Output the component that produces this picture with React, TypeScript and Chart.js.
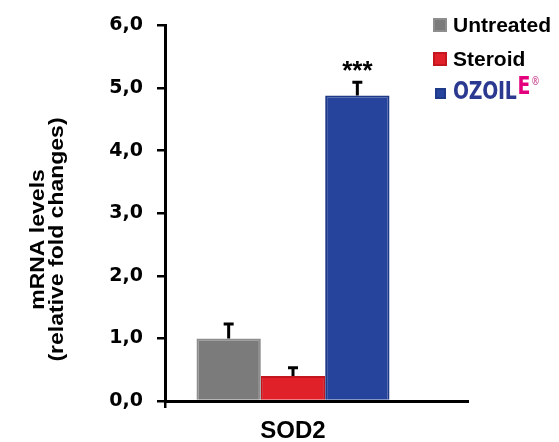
import React, { useEffect, useRef } from 'react';
import { Chart, registerables } from 'chart.js';

Chart.register(...registerables);

// ---- data ----
const categories = ['SOD2'];
const seriesNames = ['Untreated', 'Steroid', 'OZOIL'];
const untreatedValues = [1.0];
const steroidValues = [0.4];
const ozoilValues = [4.88];
const untreatedErrors = [0.23];
const steroidErrors = [0.13];
const ozoilErrors = [0.21];
const significanceMarks = ['', '', '***'];
const yTickValues = [0, 1, 2, 3, 4, 5, 6];
const yTitleLines = ['mRNA levels', '(relative fold changes)'];

const seriesColors = ['#7b7b7b', '#e0212a', '#26449b'];
const seriesBorders = ['#8e8e8e', '#c4161e', '#1f3a88'];

const errorSets = [untreatedErrors, steroidErrors, ozoilErrors];
const valueSets = [untreatedValues, steroidValues, ozoilValues];

const fmt = (v: number) => v.toFixed(1).replace('.', ',');

const extrasPlugin = {
  id: 'extras',
  afterDatasetsDraw(chart: any) {
    const ctx = chart.ctx;
    const yScale = chart.scales.y;
    const area = chart.chartArea;
    ctx.save();
    // error bars (upper only) and significance marks
    valueSets.forEach((vals, i) => {
      const meta = chart.getDatasetMeta(i);
      meta.data.forEach((el: any, j: number) => {
        const v = vals[j];
        const e = errorSets[i][j];
        const yTop = yScale.getPixelForValue(v + e);
        ctx.strokeStyle = '#000';
        ctx.lineWidth = 3;
        ctx.beginPath();
        ctx.moveTo(el.x, el.y);
        ctx.lineTo(el.x, yTop);
        ctx.moveTo(el.x - 5, yTop);
        ctx.lineTo(el.x + 5, yTop);
        ctx.stroke();
        const mark = significanceMarks[i];
        if (mark) {
          ctx.fillStyle = '#000';
          ctx.font = 'bold 26px "Liberation Sans", Arial, sans-serif';
          ctx.textAlign = 'center';
          ctx.textBaseline = 'alphabetic';
          ctx.fillText(mark, el.x, yTop - 3);
        }
      });
    });
    // extend x axis line to the right
    ctx.strokeStyle = '#000';
    ctx.lineWidth = 3;
    ctx.beginPath();
    ctx.moveTo(area.right - 2, area.bottom + 0.5);
    ctx.lineTo(area.right + (area.right - area.left) * 0.1875, area.bottom + 0.5);
    ctx.stroke();
    // y axis title (two centred lines)
    ctx.fillStyle = '#000';
    ctx.font = 'bold 23px "Liberation Sans", Arial, sans-serif';
    ctx.textAlign = 'center';
    ctx.textBaseline = 'middle';
    const cy = area.top + (area.bottom - area.top) * 0.57;
    const x0 = yScale.left + 38;
    yTitleLines.forEach((line, k) => {
      ctx.save();
      ctx.translate(x0 + k * 19.5, cy);
      ctx.rotate(-Math.PI / 2);
      ctx.scale(1, 0.9);
      ctx.fillText(line, 0, 0);
      ctx.restore();
    });
    ctx.restore();
  },
};

function Legend() {
  const row: React.CSSProperties = {
    display: 'flex',
    alignItems: 'center',
    height: 34,
  };
  const box = (c: string, b: string, s: number): React.CSSProperties => ({
    width: s,
    height: s,
    background: c,
    boxShadow: `inset 0 0 0 2px ${b}`,
    marginRight: 6,
    flex: '0 0 auto',
  });
  const txt: React.CSSProperties = {
    font: 'bold 21px "Liberation Sans", Arial, sans-serif',
    color: '#000',
    lineHeight: '24px',
    whiteSpace: 'nowrap',
  };
  return (
    <div style={{ position: 'absolute', left: 433, top: 8 }}>
      <div style={row}>
        <div style={box(seriesColors[0], seriesBorders[0], 14)} />
        <span style={txt}>{seriesNames[0]}</span>
      </div>
      <div style={row}>
        <div style={box(seriesColors[1], seriesBorders[1], 14)} />
        <span style={txt}>{seriesNames[1]}</span>
      </div>
      <div style={row}>
        <div style={{ ...box(seriesColors[2], seriesBorders[2], 11), marginLeft: 2, marginRight: 7 }} />
        <span
          style={{
            font: 'bold 21px "DejaVu Sans Condensed", "DejaVu Sans", sans-serif',
            color: '#2b3990',
            display: 'inline-block',
            transform: 'scaleY(1.2)',
            letterSpacing: '-0.3px',
            whiteSpace: 'nowrap',
            lineHeight: '24px',
          }}
        >
          {seriesNames[2]}
          <span style={{ color: '#e4007c', position: 'relative', top: -4, marginLeft: 1 }}>E</span>
          <span style={{ color: '#d46aa4', fontSize: 10, position: 'relative', top: -12, marginLeft: 1 }}>®</span>
        </span>
      </div>
    </div>
  );
}

export default function App() {
  const ref = useRef<HTMLCanvasElement | null>(null);
  useEffect(() => {
    if (!ref.current) return;
    const chart = new Chart(ref.current, {
      type: 'bar',
      data: {
        labels: categories,
        datasets: seriesNames.map((name, i) => ({
          label: name,
          data: valueSets[i],
          backgroundColor: seriesColors[i],
          borderColor: seriesBorders[i],
          borderWidth: 2,
          categoryPercentage: 0.754,
          barPercentage: 1,
        })),
      },
      options: {
        animation: false,
        responsive: false,
        layout: { padding: { top: 25, right: 138, bottom: 0, left: 0 } },
        plugins: {
          legend: { display: false },
          tooltip: { enabled: false },
        },
        scales: {
          x: {
            afterFit: (s: any) => {
              s.height = 41;
            },
            border: { display: true, color: '#000', width: 3 },
            grid: {
              drawOnChartArea: false,
              drawTicks: true,
              tickLength: 7,
              lineWidth: 2.5,
              color: (c: any) => (c.type === 'tick' ? '#000' : 'rgba(0,0,0,0)'),
            },
            ticks: {
              color: '#000',
              padding: 9,
              font: { family: '"Liberation Sans", Arial, sans-serif', size: 24, weight: 'bold' },
            },
          },
          y: {
            min: 0,
            max: 6,
            afterFit: (s: any) => {
              s.width = 165;
            },
            afterBuildTicks: (s: any) => {
              s.ticks = yTickValues.map((v) => ({ value: v }));
            },
            border: { display: true, color: '#000', width: 3 },
            grid: {
              drawOnChartArea: false,
              drawTicks: true,
              tickLength: 8,
              lineWidth: 2.5,
              color: '#000',
            },
            ticks: {
              color: '#000',
              padding: 14,
              callback: (v: any) => fmt(Number(v)),
              font: { family: '"DejaVu Sans", sans-serif', size: 19, weight: 'bold' },
            },
          },
        },
      },
      plugins: [extrasPlugin],
    });
    return () => chart.destroy();
  }, []);
  return (
    <div style={{ position: 'absolute', left: 0, top: 0, width: 559, height: 442, background: '#fff' }}>
      <canvas ref={ref} width={559} height={442} style={{ position: 'absolute', left: 0, top: 0 }} />
      <Legend />
    </div>
  );
}
